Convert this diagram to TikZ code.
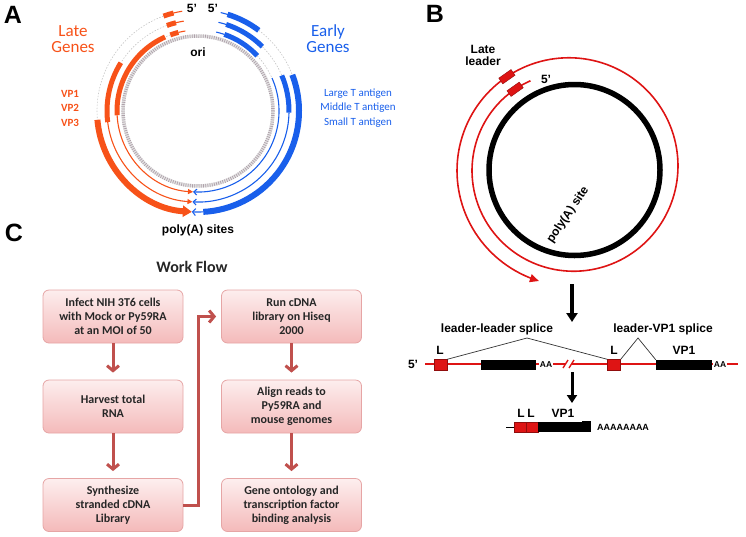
\documentclass[tikz,border=0pt]{standalone}
\usepackage{fontspec}
\setmainfont{Liberation Sans}
\newfontfamily\calfont{Carlito}
\usetikzlibrary{arrows.meta}
\definecolor{lateorange}{RGB}{247,82,25}
\definecolor{earlyblue}{RGB}{25,95,235}
\definecolor{leaderred}{RGB}{222,20,20}
\definecolor{helixgray}{RGB}{175,160,170}
\definecolor{flowred}{RGB}{192,80,77}
\definecolor{boxedge}{RGB}{230,165,165}
\definecolor{boxtop}{RGB}{253,238,238}
\definecolor{boxbottom}{RGB}{244,186,186}
\tikzset{
  panel/.style={font=\bfseries\fontsize{25}{25}\selectfont, inner sep=0pt},
  lbl/.style={font=\bfseries\fontsize{12}{12}\selectfont, inner sep=0pt},
  gap/.style={gray!45, line width=0.6pt, dash pattern=on 1.5pt off 1.5pt},
  thinlate/.style={lateorange, line width=1.1pt},
  thinearly/.style={earlyblue, line width=1.1pt},
  leaderbox/.style={draw=leaderred!65!black, fill=leaderred, inner sep=0pt, line width=0.4pt},
  flowbox/.style={draw=boxedge, line width=0.8pt, rounded corners=6pt, top color=boxtop,
    bottom color=boxbottom, minimum width=140pt, minimum height=53pt, align=center,
    text=black!85, font=\calfont\bfseries\fontsize{12}{14}\selectfont},
  flowarrow/.style={draw=flowred, line width=3pt, -{Straight Barb[length=5pt,width=12pt]}, shorten >=7pt}
}
\begin{document}
\begin{tikzpicture}[x=1pt,y=1pt]
\useasboundingbox (0,0) rectangle (746,-536);
\node[panel] (pA) at (13,-15) {A};
\node[panel] (pB) at (435,-14) {B};
\node[panel] (pC) at (14,-233) {C};

% A: genome map
\begin{scope}[shift={(198,-111)}]
  \draw[gray!22, line width=3.5pt] (0,0) circle[radius=75pt];
  \draw[helixgray, line width=3.5pt, dash pattern=on 0.7pt off 1.5pt] (0,0) circle[radius=75pt];
  % late
  \draw[gap] (110:101) arc[start angle=110, end angle=185, radius=101pt];
  \draw[lateorange, line width=6pt, -{Triangle[length=9pt,width=11pt]}] (185:101) arc[start angle=185, end angle=266.5, radius=101pt];
  \draw[gap] (110:91) arc[start angle=110, end angle=148, radius=91pt];
  \draw[lateorange, line width=5pt] (148:91) arc[start angle=148, end angle=187, radius=91pt];
  \draw[thinlate, -{Triangle[length=5pt,width=5pt]}] (187:91) arc[start angle=187, end angle=266.5, radius=91pt];
  \draw[gap] (110:81) arc[start angle=110, end angle=114, radius=81pt];
  \draw[lateorange, line width=5pt] (114:81) arc[start angle=114, end angle=183, radius=81pt];
  \draw[thinlate, -{Triangle[length=5pt,width=5pt]}] (183:81) arc[start angle=183, end angle=266.5, radius=81pt];
  \foreach \r in {101,91,81}{
    \draw[thinlate] (99:\r) arc[start angle=99, end angle=104, radius=\r pt];
    \draw[lateorange, line width=5pt] (104:\r) arc[start angle=104, end angle=110, radius=\r pt];
    \draw[thinearly] (77:\r) arc[start angle=77, end angle=71, radius=\r pt];
  }
  % early
  \draw[earlyblue, line width=5.5pt] (73:101) arc[start angle=73, end angle=53, radius=101pt];
  \draw[gap] (53:101) arc[start angle=53, end angle=21, radius=101pt];
  \draw[earlyblue, line width=6pt] (21:101) arc[start angle=21, end angle=-87, radius=101pt];
  \draw[thinearly, -{Straight Barb[length=3pt,width=7pt]}] (-87:101) arc[start angle=-87, end angle=-93.5, radius=101pt];
  \draw[earlyblue, line width=5pt] (72:91) arc[start angle=72, end angle=45, radius=91pt];
  \draw[gap] (45:91) arc[start angle=45, end angle=23, radius=91pt];
  \draw[earlyblue, line width=5pt] (23:91) arc[start angle=23, end angle=-1, radius=91pt];
  \draw[thinearly, -{Straight Barb[length=3pt,width=6pt]}] (-1:91) arc[start angle=-1, end angle=-93.5, radius=91pt];
  \draw[earlyblue, line width=5pt] (71:81) arc[start angle=71, end angle=43, radius=81pt];
  \draw[gap] (43:81) arc[start angle=43, end angle=24, radius=81pt];
  \draw[thinearly, -{Straight Barb[length=3pt,width=6pt]}] (24:81) arc[start angle=24, end angle=-93.5, radius=81pt];
  \node[lbl] (fiveL) at (-6,103) {5'};
  \node[lbl] (fiveE) at (15,103) {5'};
  \node[lbl] (ori) at (0,59) {ori};
  \node[lbl] (polyA) at (0,-119) {poly(A) sites};
\end{scope}
\node[lateorange, align=center, font=\calfont\fontsize{17}{16}\selectfont] (late) at (73,-39) {Late\\Genes};
\node[earlyblue, align=center, font=\calfont\fontsize{17}{16}\selectfont] (early) at (328,-39) {Early\\Genes};
\node[lateorange, align=center, font=\calfont\bfseries\fontsize{11}{14.5}\selectfont] (vps) at (70,-108) {VP1\\VP2\\VP3};
\node[earlyblue, align=center, font=\calfont\fontsize{11}{14.5}\selectfont] (tags) at (358,-108) {Large T antigen\\Middle T antigen\\Small T antigen};

% B: late transcript
\draw[line width=5.5pt] (574.5,-170) circle[radius=85.5pt];
\begin{scope}[shift={(571.25,-168.25)}]
  \draw[leaderred, line width=1.6pt, -{Triangle[length=9pt,width=8pt]}] plot[domain=115:614, samples=200, variable=\t]
    ({(96.5+0.0417*(\t-115))*cos(\t)}, {(96.5+0.0417*(\t-115))*sin(\t)});
  \node[leaderbox, minimum width=15pt, minimum height=7pt, rotate=35.4] (lead1) at (125.4:96.9) {};
  \node[leaderbox, minimum width=15pt, minimum height=7pt, rotate=35.1] (lead2) at (125.1:111.9) {};
\end{scope}
\node[lbl, align=center, font=\bfseries\fontsize{12}{11.5}\selectfont] (lateleader) at (483,-55.5) {Late\\leader};
\node[lbl] (fiveB) at (546,-79) {5'};
\node[lbl, rotate=56] (polysite) at (568,-215) {poly(A) site};
\coordinate (arr1a) at (572,-284);
\coordinate (arr1b) at (572,-322);
\draw[line width=3.5pt, -{Triangle[length=9pt,width=11pt]}] (arr1a) -- (arr1b);

% splicing
\draw[leaderred, line width=1.4pt] (425,-364) -- (565,-364) (572,-364) -- (738,-364);
\draw[leaderred, line width=1.4pt] (563,-368) -- (568,-360) (569,-368) -- (574,-360);
\node[lbl] (five2) at (413,-364) {5'};
\node[leaderbox, minimum width=13pt, minimum height=11pt] (L1) at (440.5,-365) {};
\node[leaderbox, minimum width=13pt, minimum height=11pt] (L2) at (614,-365) {};
\node[fill=black, inner sep=0pt, minimum width=55pt, minimum height=10pt] (exon1) at (508.5,-365) {};
\node[fill=black, inner sep=0pt, minimum width=56pt, minimum height=10pt] (exon2) at (684,-365) {};
\node[lbl, fill=white, inner sep=1pt, font=\bfseries\fontsize{8.5}{8.5}\selectfont] (aa1) at (546,-365) {AA};
\node[lbl, fill=white, inner sep=1pt, font=\bfseries\fontsize{8.5}{8.5}\selectfont] (aa2) at (720,-365) {AA};
\node[lbl] (Ltxt1) at (440,-350) {L};
\node[lbl] (Ltxt2) at (614,-350) {L};
\node[lbl] (vptxt) at (684,-350) {VP1};
\coordinate (apex1) at (527,-338);
\coordinate (apex2) at (638,-338);
\draw[black!80, line width=0.7pt] (L1.north east) -- (apex1) -- (L2.north west);
\draw[black!80, line width=0.7pt] (L2.north east) -- (apex2) -- (exon2.north west);
\node[lbl] (llsplice) at (497,-329) {leader-leader splice};
\node[lbl] (lvsplice) at (663,-329) {leader-VP1 splice};
\coordinate (arr2a) at (572,-372);
\coordinate (arr2b) at (572,-403);
\draw[line width=3pt, -{Triangle[length=8pt,width=10pt]}] (arr2a) -- (arr2b);

% mature mRNA
\coordinate (tail) at (506,-427);
\node[leaderbox, minimum width=12pt, minimum height=10pt] (mL1) at (520,-427) {};
\node[leaderbox, minimum width=12pt, minimum height=10pt] (mL2) at (532,-427) {};
\draw[line width=0.8pt] (tail) -- (mL1.west);
\node[fill=black, inner sep=0pt, minimum width=53pt, minimum height=9.5pt, anchor=west] (mvp) at (mL2.east) {};
\fill (582,-421) rectangle (591,-432);
\node[lbl, font=\bfseries\fontsize{9}{9}\selectfont] (polytail) at (623,-427) {AAAAAAAA};
\node[lbl] (mLt1) at (521,-413) {L};
\node[lbl] (mLt2) at (531,-413) {L};
\node[lbl] (mvpt) at (563,-413) {VP1};

% C: work flow
\node[font=\calfont\bfseries\fontsize{16}{16}\selectfont, text=black!85] (wf) at (192,-267) {Work Flow};
\node[flowbox] (infect) at (113,-316.5) {Infect NIH 3T6 cells\\with Mock or Py59RA\\at an MOI of 50};
\node[flowbox] (harvest) at (113,-406.5) {Harvest total\\RNA};
\node[flowbox] (synth) at (113,-505) {Synthesize\\stranded cDNA\\Library};
\node[flowbox] (runlib) at (291.5,-316.5) {Run cDNA\\library on Hiseq\\2000};
\node[flowbox] (align) at (291.5,-406.5) {Align reads to\\Py59RA and\\mouse genomes};
\node[flowbox] (onto) at (291.5,-505) {Gene ontology and\\transcription factor\\binding analysis};
\draw[flowarrow] (infect) -- (harvest);
\draw[flowarrow] (harvest) -- (synth);
\draw[flowarrow, shorten >=5pt] (synth.east) -- ++(15,0) |- (runlib.west);
\draw[flowarrow] (runlib) -- (align);
\draw[flowarrow] (align) -- (onto);
\end{tikzpicture}
\end{document}
